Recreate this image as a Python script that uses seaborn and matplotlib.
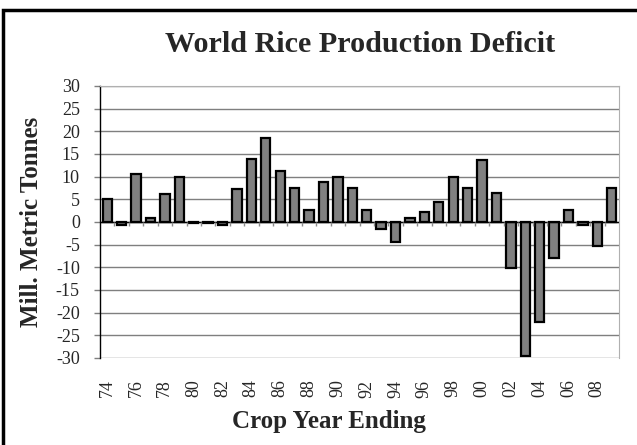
import matplotlib
matplotlib.use("Agg")
import matplotlib.pyplot as plt
import seaborn as sns
import pandas as pd

years = ['74', '75', '76', '77', '78', '79', '80', '81', '82', '83', '84', '85',
         '86', '87', '88', '89', '90', '91', '92', '93', '94', '95', '96', '97',
         '98', '99', '00', '01', '02', '03', '04', '05', '06', '07', '08', '09']
deficit = [5.1, -0.7, 10.6, 0.9, 6.1, 10.0, -0.2, -0.3, -0.6, 7.2, 13.9, 18.5,
           11.3, 7.6, 2.7, 8.8, 9.9, 7.6, 2.7, -1.5, -4.5, 0.95, 2.3, 4.5,
           9.9, 7.5, 13.75, 6.4, -10.1, -29.6, -22.1, -8.0, 2.6, -0.7, -5.3, 7.5]
yticks = list(range(-30, 31, 5))

df = pd.DataFrame({'year': years, 'deficit': deficit})

sns.set_style('white')
plt.rcParams['font.family'] = ['Liberation Serif', 'DejaVu Serif']

W, H = 637, 445
fig = plt.figure(figsize=(W / 100, H / 100), dpi=100)
ax = fig.add_axes([100 / W, 1 - 358 / H, 519 / W, 272 / H])

sns.barplot(data=df, x='year', y='deficit', order=years, color='#808080',
            edgecolor='black', linewidth=1.6, width=0.65, saturation=1, ax=ax)

ax.set_ylim(-30, 30)
ax.set_xlim(-0.5, len(years) - 0.5)
ax.set_yticks(yticks)
ax.set_yticklabels([str(t) for t in yticks], fontsize=13)
ax.yaxis.grid(True, color='#7f7f7f', linewidth=1)
ax.set_axisbelow(True)
ax.tick_params(axis='y', length=4, width=1, color='#7f7f7f', pad=10.5, left=True)

ax.set_xticks(range(0, len(years), 2))
ax.set_xticklabels(years[::2], rotation=90, fontsize=13)
ax.tick_params(axis='x', length=0, pad=15.5)

# zero line with small category ticks
ax.axhline(0, color='black', linewidth=1, zorder=1)
ax.vlines([i + 0.5 for i in range(len(years) - 1)], -0.9, 0,
          color='#8c8c8c', linewidth=1, zorder=1)

for side in ['top', 'right', 'bottom']:
    ax.spines[side].set_color('#b0b0b0')
ax.spines['bottom'].set_visible(False)
ax.spines['left'].set_color('black')
ax.spines['left'].set_linewidth(1)

ax.set_xlabel('')
ax.set_ylabel('')
fig.text(329 / W, 1 - 428 / H, 'Crop Year Ending', ha='center', va='baseline',
         fontsize=18, fontweight='bold')
fig.text(32 / W, 1 - 222 / H, 'Mill. Metric Tonnes', ha='center', va='center',
         rotation=90, fontsize=18, fontweight='bold')
fig.text(360 / W, 1 - 52 / H, 'World Rice Production Deficit', ha='center',
         va='baseline', fontsize=21.7, fontweight='bold')

# outer frame: only top and left edges fall inside the image
border = plt.Rectangle((0.004, -0.1), 1.2, 1.1 - 10 / H, transform=fig.transFigure,
                       fill=False, edgecolor='black', linewidth=2.5)
fig.patches.append(border)

fig.savefig('out.png', dpi=100)
